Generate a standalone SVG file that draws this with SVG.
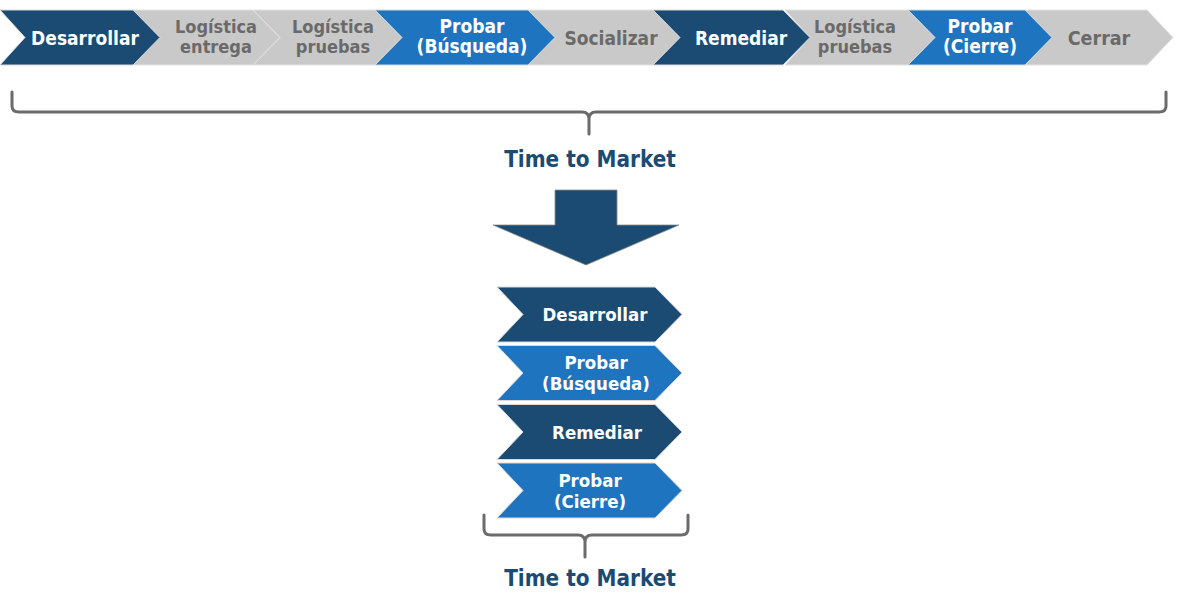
<svg xmlns="http://www.w3.org/2000/svg" width="1181" height="598" viewBox="0 0 1181 598">
<style>
.dark{fill:#1b4b72;stroke:#d9d9d9;stroke-width:1}
.blue{fill:#1f74bf;stroke:#d9d9d9;stroke-width:1}
.gray{fill:#c9c9c9;stroke:#e2e2e2;stroke-width:1}
.t{font-family:"DejaVu Sans Condensed","DejaVu Sans",Verdana,sans-serif;font-stretch:condensed;font-weight:bold;text-anchor:middle}
.w{fill:#ffffff}
.g{fill:#6a6a6a}
.brace{fill:none;stroke:#6b6b6b;stroke-width:3;stroke-linejoin:round;stroke-linecap:round}
.ttm{font-family:"DejaVu Sans Condensed","DejaVu Sans",Verdana,sans-serif;font-stretch:condensed;font-weight:bold;font-size:22.3px;fill:#1b4b72;text-anchor:middle}
</style>
<rect width="1181" height="598" fill="#ffffff"/>
<g id="n2"><polygon class="gray" points="133,10 253,10 280,37.5 253,65 133,65 160,37.5"/><text class="t g" font-size="18" x="216" y="33">Logística</text><text class="t g" font-size="18" x="216" y="53">entrega</text></g>
<g id="n3"><polygon class="gray" points="253,10 375,10 402,37.5 375,65 253,65 280,37.5"/><text class="t g" font-size="18" x="333" y="33">Logística</text><text class="t g" font-size="18" x="333" y="53">pruebas</text></g>
<g id="n5"><polygon class="gray" points="528,10 653,10 680,37.5 653,65 528,65 555,37.5"/><text class="t g" font-size="19" x="611" y="45">Socializar</text></g>
<g id="n7"><polygon class="gray" points="785,10 908,10 935,37.5 908,65 785,65 810,37.5"/><text class="t g" font-size="18" x="855" y="33">Logística</text><text class="t g" font-size="18" x="855" y="53">pruebas</text></g>
<g id="n9"><polygon class="gray" points="1025,10 1147,10 1173,37.5 1147,65 1025,65 1052,37.5"/><text class="t g" font-size="19.5" x="1099" y="45">Cerrar</text></g>
<g id="n1"><polygon class="dark" points="0,10 133,10 160,37.5 133,65 0,65 25,37.5"/><text class="t w" font-size="19" x="85" y="45">Desarrollar</text></g>
<g id="n4"><polygon class="blue" points="375,10 528,10 555,37.5 528,65 375,65 402,37.5"/><text class="t w" font-size="19" x="472" y="33">Probar</text><text class="t w" font-size="19" x="472" y="53">(Búsqueda)</text></g>
<g id="n6"><polygon class="dark" points="653,10 783,10 810,37.5 783,65 653,65 680,37.5"/><text class="t w" font-size="19" x="741" y="45">Remediar</text></g>
<g id="n8"><polygon class="blue" points="908,10 1025,10 1052,37.5 1025,65 908,65 935,37.5"/><text class="t w" font-size="19" x="980" y="33">Probar</text><text class="t w" font-size="19" x="980" y="53">(Cierre)</text></g>
<g id="brace-top">
<path class="brace" d="M12 92 L12 106 Q12 112 19 112 L582 112 Q589 112 589 119 L589 134 M589 134 L589 119 Q589 112 596 112 L1159 112 Q1166 112 1166 106 L1166 92"/>
<text class="ttm" x="590" y="167">Time to Market</text>
</g>
<g id="arrow"><polygon fill="#1b4b72" stroke="#8a8a8a" stroke-width="0.8" points="555,190 617,190 617,225 679,225 586,265 493,225 555,225"/></g>
<g id="v1"><polygon class="dark" points="497,287 655,287 682,314.5 655,342 497,342 523,314.5"/><text class="t w" font-size="18.5" x="595" y="321">Desarrollar</text></g>
<g id="v2"><polygon class="blue" points="497,345.5 655,345.5 682,373 655,400.5 497,400.5 523,373"/><text class="t w" font-size="18.5" x="596" y="369">Probar</text><text class="t w" font-size="18.5" x="596" y="390">(Búsqueda)</text></g>
<g id="v3"><polygon class="dark" points="497,404.5 655,404.5 682,432 655,459.5 497,459.5 523,432"/><text class="t w" font-size="18.5" x="597" y="439">Remediar</text></g>
<g id="v4"><polygon class="blue" points="497,463 655,463 682,490.5 655,518 497,518 523,490.5"/><text class="t w" font-size="18.5" x="590" y="487">Probar</text><text class="t w" font-size="18.5" x="590" y="508">(Cierre)</text></g>
<g id="brace-bottom">
<path class="brace" d="M484 515 L484 529 Q484 535 491 535 L578 535 Q585 535 585 542 L585 557 M585 557 L585 542 Q585 535 592 535 L681 535 Q688 535 688 529 L688 515"/>
<text class="ttm" x="590" y="586">Time to Market</text>
</g>
</svg>
